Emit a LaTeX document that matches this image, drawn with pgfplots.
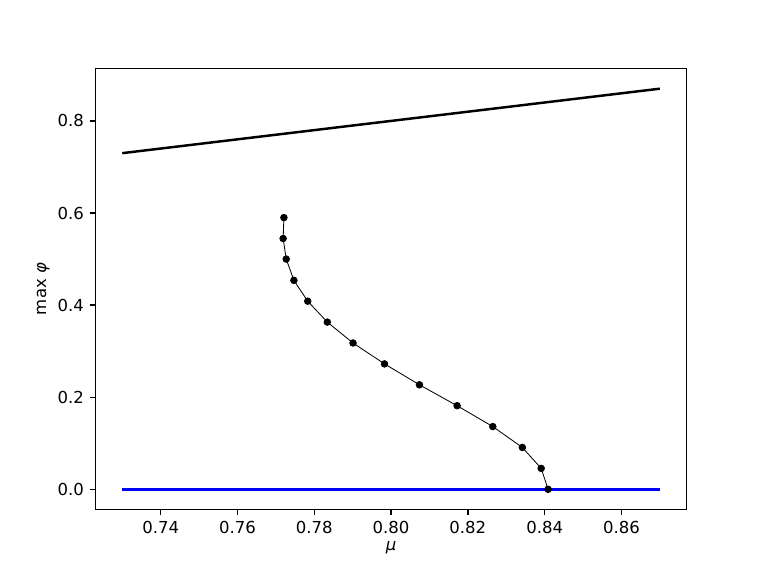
\documentclass[border=0pt]{standalone}
\usepackage{fontspec}
\setmainfont{DejaVu Sans}
\usepackage{pgfplots}
\pgfplotsset{compat=1.18}
\begin{document}
\begin{tikzpicture}
\path[use as bounding box] (0,0) rectangle (6.4in,4.8in);
\begin{axis}[
    at={(0.8in,0.528in)}, anchor=south west,
    scale only axis,
    width=4.96in, height=3.696in,
    xmin=0.723, xmax=0.877,
    ymin=-0.0435, ymax=0.9135,
    xtick={0.74,0.76,0.78,0.80,0.82,0.84,0.86},
    ytick={0,0.2,0.4,0.6,0.8},
    xticklabel style={/pgf/number format/.cd, fixed, fixed zerofill, precision=2},
    yticklabel style={/pgf/number format/.cd, fixed, fixed zerofill, precision=1},
    /pgf/number format/assume math mode=true,
    tick align=outside,
    tick pos=left,
    major tick length=3.5pt,
    every tick/.style={black, line width=0.8pt},
    axis line style={line width=0.8pt},
    tick label style={font=\fontsize{10}{12}\selectfont},
    label style={font=\fontsize{10}{12}\selectfont},
    xlabel={\textit{μ}},
    ylabel={max \textit{φ}},
    xlabel style={yshift=2pt},
    ylabel style={yshift=-2pt},
]
% upper branch
\addplot[black, line width=1.5pt] coordinates {(0.73,0.73) (0.87,0.87)};
% trivial branch
\addplot[blue, line width=1.5pt] coordinates {(0.73,0) (0.87,0)};
% turning branch
\addplot[black, line width=0.5pt, mark=*, mark size=2pt, mark options={solid, fill=black}] coordinates {
    (0.7721,0.5900)
    (0.7719,0.5446)
    (0.7727,0.5000)
    (0.7747,0.4538)
    (0.7783,0.4085)
    (0.7834,0.3631)
    (0.7901,0.3177)
    (0.7983,0.2723)
    (0.8074,0.2269)
    (0.8172,0.1815)
    (0.8265,0.1362)
    (0.8342,0.0908)
    (0.8391,0.0454)
    (0.8409,0.0000)
};
\end{axis}
\end{tikzpicture}
\end{document}
